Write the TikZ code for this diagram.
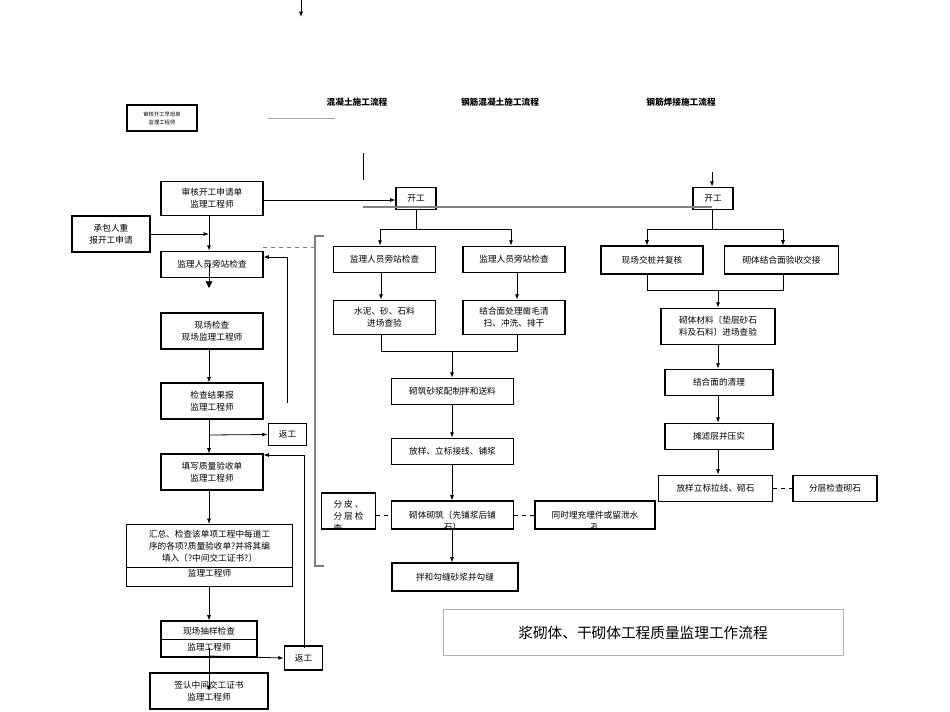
\documentclass[tikz,border=0pt]{standalone}
\usepackage{fontspec}
\setmainfont{Noto Sans CJK SC}
\usetikzlibrary{arrows.meta}
\begin{document}
\begin{tikzpicture}[x=0.75pt,y=-0.75pt,
 bx/.style={draw,line width=0.8pt,inner sep=0pt,align=center,font=\fontsize{6.5}{9}\selectfont},
 ar/.style={-{Latex[length=4pt,width=3pt]},line width=0.6pt},
 ln/.style={line width=0.6pt},
 dl/.style={dashed,line width=0.7pt},
 gl/.style={gray,line width=0.8pt}]
\useasboundingbox (0,0) rectangle (950,711);
\newcommand\bxat[4]{\node[bx,minimum width={(#3)*0.75pt},minimum height={(#4)*0.75pt}] at (#1,#2)}
% small box and headers
\node[bx,minimum width=52.5pt,minimum height=19.5pt,font=\fontsize{4}{6}\selectfont] (s0) at (162,118) {审核开工早班单\\监理工程师};
\node[font=\bfseries\fontsize{6.5}{8}\selectfont] (h1) at (357,102) {混凝土施工流程};
\node[font=\bfseries\fontsize{6.5}{8}\selectfont] (h2) at (500,102) {钢筋混凝土施工流程};
\node[font=\bfseries\fontsize{6.5}{8}\selectfont] (h3) at (681,102) {钢筋焊接施工流程};
\draw[gray!70,line width=0.5pt] (268,118) -- (335,118);
\coordinate (t0) at (301,0); \coordinate (t1) at (301,17);
\draw[ar] (t0) -- (t1);
\draw[ln] (363,153) -- (363,180);
% left column
\node[bx,minimum width=76.5pt,minimum height=26pt] (A) at (212,198.5) {审核开工申请单\\监理工程师};
\node[bx,minimum width=58.5pt,minimum height=27pt] (P) at (111,234) {承包人重\\报开工申请};
\node[bx,minimum width=76.5pt,minimum height=20pt] (B) at (212,264.5) {监理人员旁站检查};
\node[bx,minimum width=76.5pt,minimum height=27pt] (C) at (212,331) {现场检查\\现场监理工程师};
\node[bx,minimum width=76.5pt,minimum height=27pt] (D) at (212,401) {检查结果报\\监理工程师};
\node[bx,minimum width=29pt,minimum height=17pt] (R1) at (287.5,434.5) {返工};
\node[bx,minimum width=76.5pt,minimum height=27pt] (E) at (212,472) {填写质量验收单\\监理工程师};
\node[bx,minimum width=125pt,minimum height=46.5pt,anchor=north] (F) at (209.5,524) {};
\node[font=\fontsize{6.5}{9}\selectfont,align=center] (Ft) at (209.5,546) {汇总、检查该单项工程中每道工\\序的各项?质量验收单?并将其编\\填入〔?中间交工证书?〕};
\node[font=\fontsize{6.5}{9}\selectfont] (Fb) at (209.5,573) {监理工程师};
\draw[ln] (126,567) -- (293,567);
\node[bx,minimum width=72pt,minimum height=27pt] (G) at (209,639) {};
\node[font=\fontsize{6.5}{9}\selectfont] (Gt) at (209,631) {现场抽样检查};
\node[font=\fontsize{6.5}{9}\selectfont] (Gb) at (209,647) {监理工程师};
\draw[ln] (161,639) -- (257,639);
\node[bx,minimum width=29pt,minimum height=18pt] (R2) at (303.5,658) {返工};
\node[bx,minimum width=88.5pt,minimum height=27pt] (H) at (209,691) {签认中间交工证书\\监理工程师};
\draw[ar] (A.south -| 209,0) -- (B.north -| 209,0);
\draw[ar] (P.east) -- (209,234);
\draw[-{Triangle[length=5pt,width=5pt]},ln] (209,264) -- (209,288);
\draw[ar] (C.south -| 209,0) -- (D.north -| 209,0);
\draw[ar] (209,435) -- (R1.west);
\draw[ar] (D.south -| 209,0) -- (E.north -| 209,0);
\draw[ln] (287,403) -- (287,257);
\draw[ar] (287,257) -- (B.north east |- 0,257);
\draw[ln] (304,648) -- (304,455);
\draw[ar] (304,455) -- (E.north east |- 0,455);
\draw[ar] (E.south -| 209,0) -- (F.north -| 209,0);
\draw[ar] (F.south -| 209,0) -- (G.north -| 209,0);
\draw[ar] (209,656) -- (R2.west);
\draw[ar] (209,648) -- (209,691);
% middle column
\node[bx,minimum width=30pt,minimum height=17pt] (K1) at (416,198.5) {开工};
\node[bx,minimum width=30pt,minimum height=17pt] (K2) at (713,198.5) {开工};
\draw[ar] (A.east |- 0,200) -- (K1.west |- 0,200);
\draw[gl] (363,207) -- (712,207);
\coordinate (k2t) at (712,172);
\draw[ar] (k2t) -- (K2.north -| 712,0);
\draw[dl,gray] (263,247) -- (315,247);
\draw[gl] (324,236) -- (315,236) -- (315,566) -- (324,566);
\node[bx,minimum width=76pt,minimum height=20pt] (M1) at (384.5,259.5) {监理人员旁站检查};
\node[bx,minimum width=76.5pt,minimum height=20pt] (M2) at (514,259.5) {监理人员旁站检查};
\node[bx,minimum width=76pt,minimum height=26pt] (N1) at (384.5,317.5) {水泥、砂、石料\\进场查验};
\node[bx,minimum width=76.5pt,minimum height=26pt] (N2) at (514,317.5) {结合面处理凿毛清\\扫、冲洗、排干};
\draw[ln] (K1.south -| 416,0) -- (416,229);
\draw[ln] (380,229) -- (511,229);
\draw[ar] (380,229) -- (M1.north -| 380,0);
\draw[ar] (511,229) -- (M2.north -| 511,0);
\draw[ar] (M1.south -| 381,0) -- (N1.north -| 381,0);
\draw[ar] (M2.south -| 517,0) -- (N2.north -| 517,0);
\node[bx,minimum width=91pt,minimum height=20pt] (Q1) at (452.5,391.5) {砌筑砂浆配制拌和送料};
\node[bx,minimum width=91pt,minimum height=20pt] (Q2) at (452.5,451.5) {放样、立标接线、铺浆};
\node[bx,minimum width=91pt,minimum height=21pt] (Q3) at (452.5,515) {};
\begin{scope}
\clip (392,501) rectangle (513,529);
\node[font=\fontsize{6.5}{9}\selectfont,align=center] (Q3t) at (452.5,521) {砌体砌筑〔先铺浆后铺\\石〕};
\end{scope}
\node[bx,minimum width=94.5pt,minimum height=21pt] (Q4) at (455,577) {拌和勾缝砂浆并勾缝};
\node[bx,minimum width=41pt,minimum height=27pt] (S1) at (348.5,511) {};
\begin{scope}
\clip (321,493) rectangle (376,529);
\node[font=\fontsize{6.5}{9}\selectfont,align=left] (S1t) at (348.5,516) {分 皮 、\\分 层 检\\查};
\end{scope}
\node[bx,minimum width=90pt,minimum height=21pt] (S2) at (595,515) {};
\begin{scope}
\clip (535,501) rectangle (655,529);
\node[font=\fontsize{6.5}{9}\selectfont,align=center] (S2t) at (595,521) {同时埋充埋件或留泄水\\孔};
\end{scope}
\draw[ln] (N1.south -| 381,0) -- (381,351) -- (517,351) -- (N2.south -| 517,0);
\draw[ar] (452,351) -- (Q1.north -| 452,0);
\draw[ar] (Q1.south -| 452,0) -- (Q2.north -| 452,0);
\draw[ar] (Q2.south -| 452,0) -- (Q3.north -| 452,0);
\draw[ar] (Q3.south -| 452,0) -- (Q4.north -| 452,0);
\draw[dl] (S1.east |- 0,515) -- (Q3.west);
\draw[dl] (Q3.east) -- (S2.west);
% right column
\node[bx,minimum width=76.5pt,minimum height=21pt] (W1) at (652,260) {现场交桩并复核};
\node[bx,minimum width=85pt,minimum height=21pt] (W2) at (781.5,260) {砌体结合面验收交接};
\node[bx,minimum width=85.5pt,minimum height=27.5pt] (W3) at (718,326.5) {砌体材料〔垫层砂石\\料及石料〕进场查验};
\node[bx,minimum width=81pt,minimum height=20pt] (W4) at (719,382.5) {结合面的清理};
\node[bx,minimum width=81pt,minimum height=20pt] (W5) at (719,436.5) {摊滤层并压实};
\node[bx,minimum width=86pt,minimum height=20pt] (W6) at (715.5,488.5) {放样立标拉线、砌石};
\node[bx,minimum width=63pt,minimum height=20pt] (W7) at (835,488.5) {分层检查砌石};
\draw[ln] (K2.south -| 712,0) -- (712,229);
\draw[ln] (647,229) -- (783,229);
\draw[ar] (647,229) -- (W1.north -| 647,0);
\draw[ar] (783,229) -- (W2.north -| 783,0);
\draw[ln] (W1.south -| 647,0) -- (647,290) -- (783,290) -- (W2.south -| 783,0);
\draw[ar] (718,290) -- (W3.north -| 718,0);
\draw[ar] (W3.south -| 718,0) -- (W4.north -| 718,0);
\draw[ar] (W4.south -| 718,0) -- (W5.north -| 718,0);
\draw[ar] (W5.south -| 718,0) -- (W6.north -| 718,0);
\draw[dl] (W6.east) -- (W7.west);
% title
\node[draw=gray!60,line width=0.6pt,minimum width=300pt,minimum height=34pt,font=\fontsize{11}{13}\selectfont] (T) at (643,632.5) {浆砌体、干砌体工程质量监理工作流程};
\end{tikzpicture}
\end{document}
